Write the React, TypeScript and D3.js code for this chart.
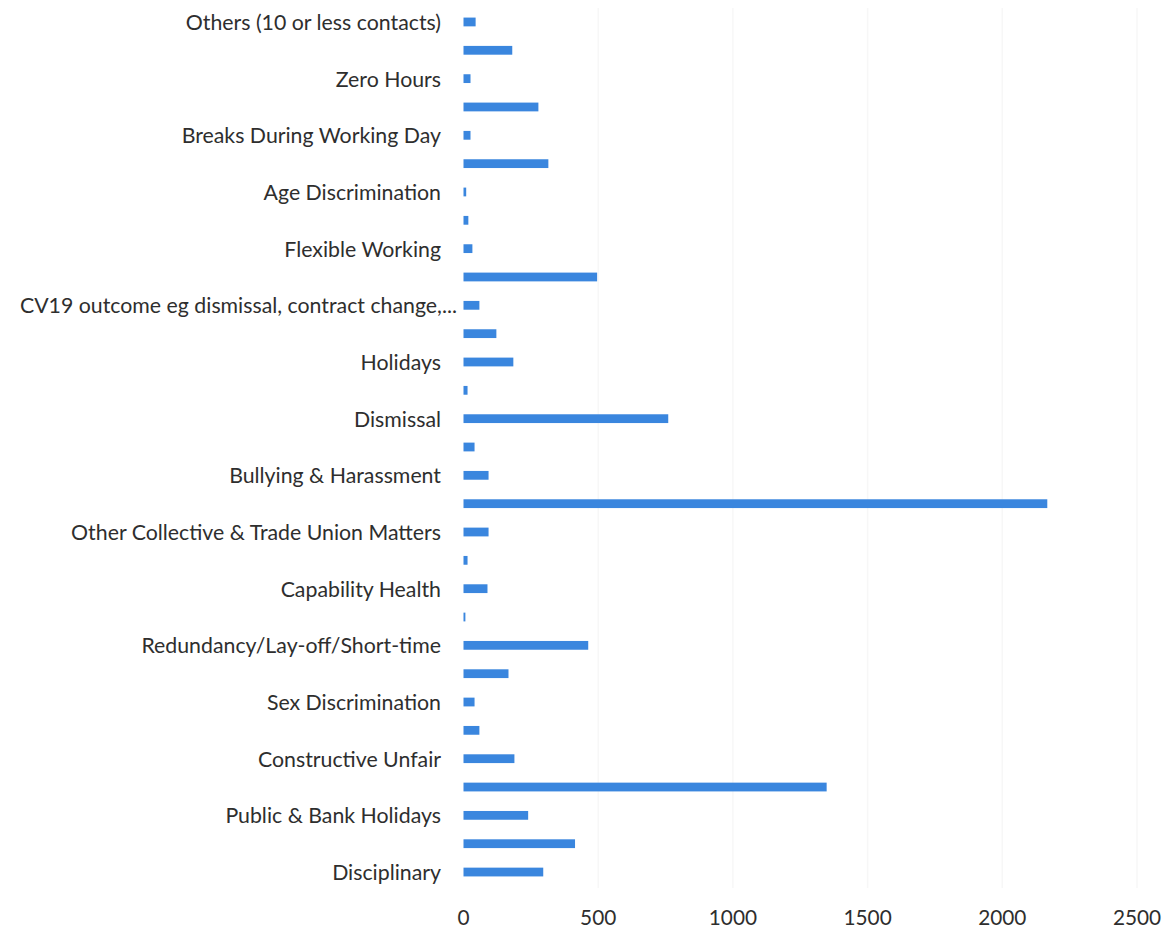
import React from "react";
import * as d3 from "d3";

const categories: string[] = [
  "Others (10 or less contacts)",
  "Unlabelled 2",
  "Zero Hours",
  "Unlabelled 4",
  "Breaks During Working Day",
  "Unlabelled 6",
  "Age Discrimination",
  "Unlabelled 8",
  "Flexible Working",
  "Unlabelled 10",
  "CV19 outcome eg dismissal, contract change,...",
  "Unlabelled 12",
  "Holidays",
  "Unlabelled 14",
  "Dismissal",
  "Unlabelled 16",
  "Bullying & Harassment",
  "Unlabelled 18",
  "Other Collective & Trade Union Matters",
  "Unlabelled 20",
  "Capability Health",
  "Unlabelled 22",
  "Redundancy/Lay-off/Short-time",
  "Unlabelled 24",
  "Sex Discrimination",
  "Unlabelled 26",
  "Constructive Unfair",
  "Unlabelled 28",
  "Public & Bank Holidays",
  "Unlabelled 30",
  "Disciplinary",
];

const values: number[] = [
  45, 181, 26, 278, 26, 315, 10, 18, 33, 496, 59, 122, 185, 15, 760, 41, 93,
  2167, 93, 15, 89, 7, 463, 167, 41, 59, 189, 1348, 240, 414, 296,
];

const xTicks: number[] = [0, 500, 1000, 1500, 2000, 2500];

const W = 1169;
const H = 928;
const FONT = "Lato, 'Open Sans', sans-serif";

export default function App() {
  const x = d3.scaleLinear().domain([0, 2500]).range([463.5, 1137]);
  const y = d3
    .scaleBand<string>()
    .domain(categories)
    .range([7.8, 886.2])
    .paddingInner(0.69)
    .paddingOuter(0.345);

  return (
    <svg
      width={W}
      height={H}
      style={{ position: "absolute", left: 0, top: 0, background: "#fff" }}
    >
      <g>
        {xTicks.slice(1).map((t) => (
          <line
            key={"g" + t}
            x1={x(t)}
            x2={x(t)}
            y1={8}
            y2={888}
            stroke="#f7f7f7"
            strokeWidth={1.5}
          />
        ))}
      </g>
      <g>
        {categories.map((c, i) => (
          <rect
            key={c}
            x={x(0)}
            y={y(c)}
            width={Math.max(1.5, x(values[i]) - x(0))}
            height={y.bandwidth()}
            fill="#3a86de"
          />
        ))}
      </g>
      <g fontFamily={FONT} fontSize={21.3} fill="#2e2e2e">
        {categories.map((c, i) =>
          i % 2 === 0 ? (
            <text
              key={"l" + c}
              x={c.endsWith("...") ? 457 : 441}
              y={(y(c) as number) + y.bandwidth() / 2}
              textAnchor="end"
              dominantBaseline="central"
            >
              {c}
            </text>
          ) : null
        )}
      </g>
      <g fontFamily={FONT} fontSize={20.8} fill="#2e2e2e">
        {xTicks.map((t) => (
          <text
            key={"t" + t}
            x={x(t)}
            y={916}
            textAnchor="middle"
            dominantBaseline="central"
          >
            {t}
          </text>
        ))}
      </g>
    </svg>
  );
}
